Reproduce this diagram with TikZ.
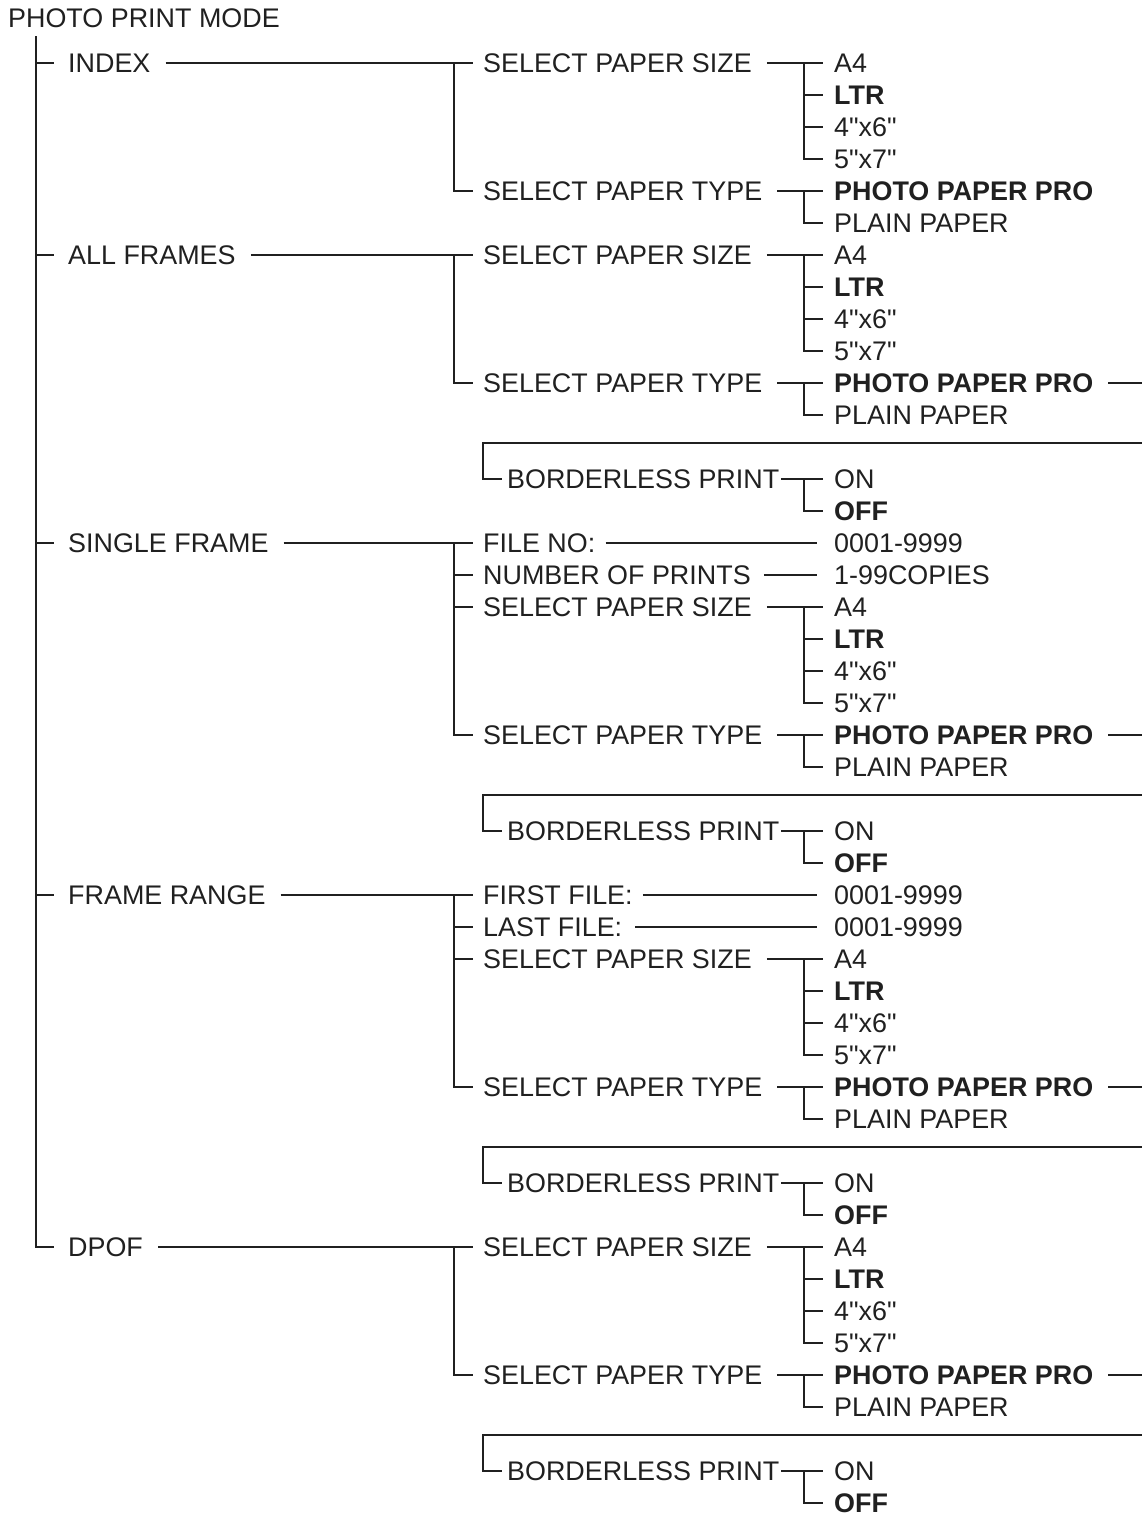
\documentclass[tikz,border=0pt]{standalone}
\usepackage{fontspec}
\setmainfont{Liberation Sans}[Ligatures=TeXOff]
\usetikzlibrary{calc}
\definecolor{ink}{RGB}{32,32,32}
\tikzset{
  item/.style={anchor=west,inner sep=0pt,text height=19pt,text depth=0pt,
    text=ink,font=\fontsize{26.9}{32}\selectfont},
  pick/.style={item,font=\fontsize{26.9}{32}\selectfont\bfseries},
  wire/.style={line width=1.3pt,draw=ink},
}
% paper size and paper type choices, #1 = prefix, #2 = row of SELECT PAPER SIZE
\newcommand{\paperrows}[2]{%
  \node[item] (#1size) at (483,#2) {SELECT PAPER SIZE};
  \node[item] (#1a4) at (834,#2) {A4};
  \node[pick] (#1ltr) at (834,#2+32) {LTR};
  \node[item] (#1four) at (834,#2+64) {4"x6"};
  \node[item] (#1five) at (834,#2+96) {5"x7"};
  \node[item] (#1type) at (483,#2+128) {SELECT PAPER TYPE};
  \node[pick] (#1pro) at (834,#2+128) {PHOTO PAPER PRO};
  \node[item] (#1plain) at (834,#2+160) {PLAIN PAPER};
  \draw[wire] ([xshift=15pt]#1size.east) -- ([xshift=-11pt]#1a4.west);
  \draw[wire] ([xshift=-30pt]#1a4.west) |- ([xshift=-11pt]#1five.west);
  \draw[wire] ([xshift=-30pt]#1ltr.west) -- ([xshift=-11pt]#1ltr.west);
  \draw[wire] ([xshift=-30pt]#1four.west) -- ([xshift=-11pt]#1four.west);
  \draw[wire] ([xshift=15pt]#1type.east) -- ([xshift=-11pt]#1pro.west);
  \draw[wire] ([xshift=-30pt]#1pro.west) |- ([xshift=-11pt]#1plain.west);
}
% borderless print, #1 = prefix, #2 = row of BORDERLESS PRINT
\newcommand{\borderrows}[2]{%
  \coordinate (#1edge) at (1142,#2-36);
  \node[item] (#1bl) at (507,#2) {BORDERLESS PRINT};
  \node[item] (#1on) at (834,#2) {ON};
  \node[pick] (#1off) at (834,#2+32) {OFF};
  \draw[wire] ([xshift=15pt]#1pro.east) -- (#1pro.east -| #1edge);
  \draw[wire] (#1edge) -| ([xshift=-24pt]#1bl.west) |- ([xshift=-5pt]#1bl.west);
  \draw[wire] ([xshift=2pt]#1bl.east) -- ([xshift=-11pt]#1on.west);
  \draw[wire] ([xshift=-30pt]#1on.west) |- ([xshift=-11pt]#1off.west);
}

\begin{document}
\begin{tikzpicture}[x=1pt,y=-1pt]
  \useasboundingbox (0,0) rectangle (1142,1515);
  \node[item] (mode) at (8,18) {PHOTO PRINT MODE};
  \coordinate (trunk) at (36,36);

  % first level
  \node[item] (index) at (68,63) {INDEX};
  \node[item] (all) at (68,255) {ALL FRAMES};
  \node[item] (single) at (68,543) {SINGLE FRAME};
  \node[item] (range) at (68,895) {FRAME RANGE};
  \node[item] (dpof) at (68,1247) {DPOF};
  \draw[wire] (trunk) |- ([xshift=-14pt]dpof.west);
  \foreach \n in {index,all,single,range}
    \draw[wire] ([xshift=-32pt]\n.west) -- ([xshift=-14pt]\n.west);

  % INDEX
  \paperrows{i}{63}
  \draw[wire] ([xshift=15pt]index.east) -- ([xshift=-10pt]isize.west);
  \draw[wire] ([xshift=-29pt]isize.west) |- ([xshift=-10pt]itype.west);

  % ALL FRAMES
  \paperrows{a}{255}
  \borderrows{a}{479}
  \draw[wire] ([xshift=15pt]all.east) -- ([xshift=-10pt]asize.west);
  \draw[wire] ([xshift=-29pt]asize.west) |- ([xshift=-10pt]atype.west);

  % SINGLE FRAME
  \node[item] (sfile) at (483,543) {FILE NO:};
  \node[item] (sfileno) at (834,543) {0001-9999};
  \node[item] (scount) at (483,575) {NUMBER OF PRINTS};
  \node[item] (scopies) at (834,575) {1-99COPIES};
  \paperrows{s}{607}
  \borderrows{s}{831}
  \draw[wire] ([xshift=15pt]single.east) -- ([xshift=-10pt]sfile.west);
  \draw[wire] ([xshift=10pt]sfile.east) -- ([xshift=-17pt]sfileno.west);
  \draw[wire] ([xshift=13pt]scount.east) -- ([xshift=-17pt]scopies.west);
  \draw[wire] ([xshift=-29pt]sfile.west) |- ([xshift=-10pt]stype.west);
  \foreach \n in {scount,ssize}
    \draw[wire] ([xshift=-29pt]\n.west) -- ([xshift=-10pt]\n.west);

  % FRAME RANGE
  \node[item] (rfirst) at (483,895) {FIRST FILE:};
  \node[item] (rfirstno) at (834,895) {0001-9999};
  \node[item] (rlast) at (483,927) {LAST FILE:};
  \node[item] (rlastno) at (834,927) {0001-9999};
  \paperrows{r}{959}
  \borderrows{r}{1183}
  \draw[wire] ([xshift=15pt]range.east) -- ([xshift=-10pt]rfirst.west);
  \draw[wire] ([xshift=10pt]rfirst.east) -- ([xshift=-17pt]rfirstno.west);
  \draw[wire] ([xshift=13pt]rlast.east) -- ([xshift=-17pt]rlastno.west);
  \draw[wire] ([xshift=-29pt]rfirst.west) |- ([xshift=-10pt]rtype.west);
  \foreach \n in {rlast,rsize}
    \draw[wire] ([xshift=-29pt]\n.west) -- ([xshift=-10pt]\n.west);

  % DPOF
  \paperrows{d}{1247}
  \borderrows{d}{1471}
  \draw[wire] ([xshift=15pt]dpof.east) -- ([xshift=-10pt]dsize.west);
  \draw[wire] ([xshift=-29pt]dsize.west) |- ([xshift=-10pt]dtype.west);
\end{tikzpicture}
\end{document}
